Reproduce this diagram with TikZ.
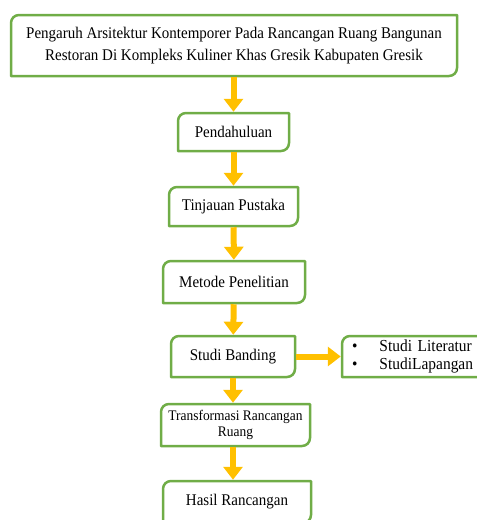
\documentclass[tikz,border=0pt]{standalone}
\usepackage{fontspec}
\setmainfont[FakeStretch=0.92]{Liberation Serif}
\usetikzlibrary{arrows.meta}
\definecolor{boxgreen}{HTML}{70AD47}
\definecolor{arrowgold}{HTML}{FFC000}
\tikzset{
  box/.style={align=center, inner sep=0pt, outer sep=0pt, font=\fontsize{16.3}{22}\selectfont},
  smallbox/.style={box, font=\fontsize{14.6}{16}\selectfont},
  listbox/.style={box, font=\fontsize{16.8}{18.5}\selectfont},
  boxline/.style={draw=boxgreen, line width=2.5pt, line join=round},
  flow/.style={draw=arrowgold, line width=6pt, shorten >=1.25pt, shorten <=1.25pt,
    -{Triangle[width=19pt,length=13pt]}}
}
\begin{document}
\begin{tikzpicture}[x=1pt, y=1pt]
\useasboundingbox (0,0) rectangle (477,-520);
\node[box, minimum width=446pt, minimum height=61pt] (title) at (234,-45.5)
  {Pengaruh Arsitektur Kontemporer Pada Rancangan Ruang Bangunan\\
   Restoran Di Kompleks Kuliner Khas Gresik Kabupaten Gresik};
\node[box, minimum width=111pt, minimum height=38pt] (pend) at (233.5,-132) {Pendahuluan};
\node[box, minimum width=129pt, minimum height=39pt] (tinj) at (233.5,-206.5) {Tinjauan Pustaka};
\node[box, minimum width=142pt, minimum height=42pt] (meto) at (234,-282) {Metode Penelitian};
\node[box, minimum width=124pt, minimum height=41pt] (stud) at (233,-356.5) {Studi Banding};
\node[listbox, anchor=west, text width=130pt, align=left, inner xsep=10pt,
  minimum height=41pt] (list) at (342,-356.5)
  {\makebox[27.5pt][l]{\textbullet}Studi Literatur\\
   \makebox[27.5pt][l]{\textbullet}StudiLapangan};
\node[smallbox, minimum width=149pt, minimum height=42pt] (trans) at (235.5,-425)
  {Transformasi Rancangan\\Ruang};
\node[box, minimum width=148pt, minimum height=42pt] (hasil) at (237,-502) {Hasil Rancangan};

% kotak: sudut kiri atas dan kanan bawah membulat
\foreach \n in {title,pend,tinj,meto,stud,list,trans,hasil}
  \draw[boxline] (\n.south west) -- ([yshift=-8pt]\n.north west)
    arc[start angle=180, end angle=90, radius=8pt] -- (\n.north east)
    -- ([yshift=8pt]\n.south east) arc[start angle=0, end angle=-90, radius=8pt]
    -- cycle;

% alur
\draw[flow] (title.south -| pend) -- (pend.north);
\draw[flow] (pend) -- (tinj);
\draw[flow] (tinj) -- (meto);
\draw[flow] (meto) -- (stud);
\draw[flow] (stud) -- (list);
\draw[flow] (stud.south) -- (stud.south |- trans.north);
\draw[flow] (trans.south -| stud) -- (stud |- hasil.north);
\end{tikzpicture}
\end{document}
